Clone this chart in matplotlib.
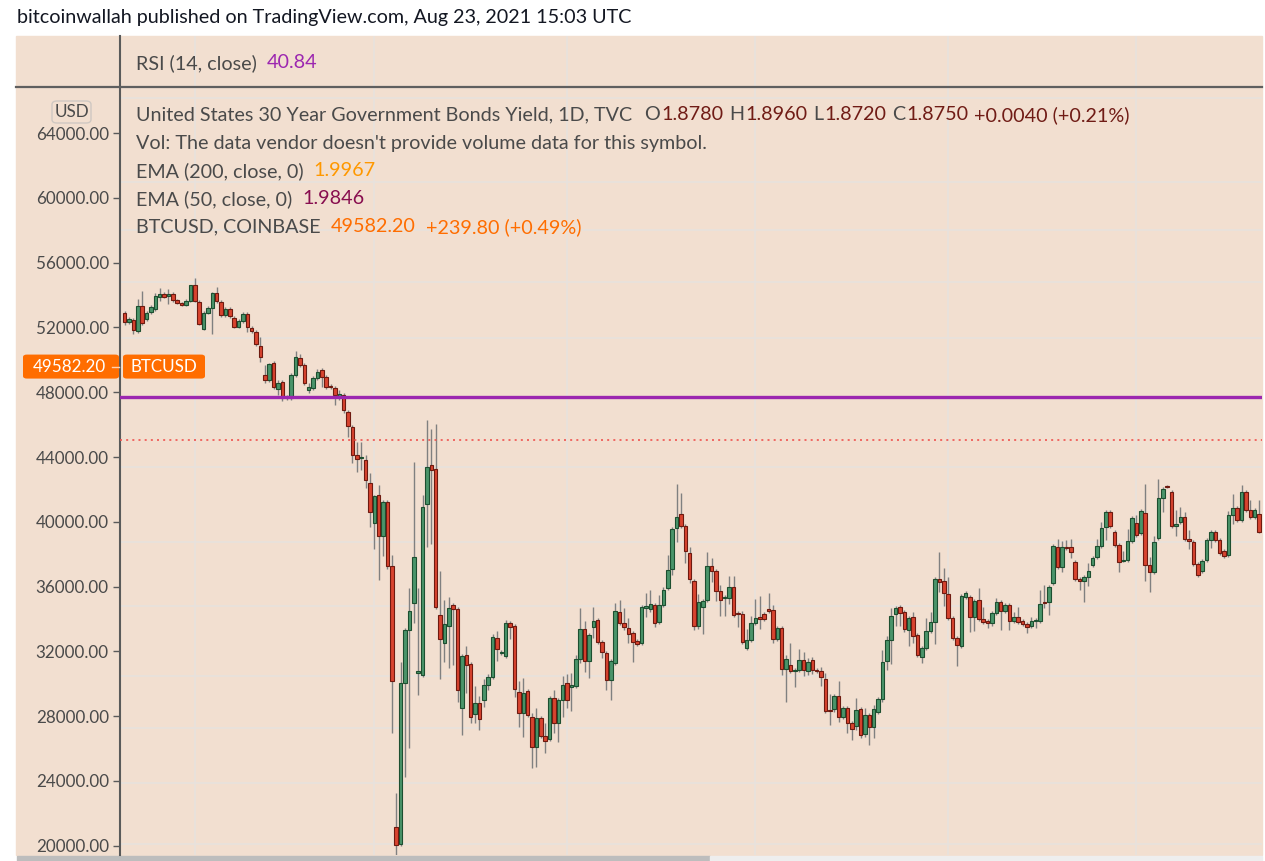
"""
tradingview style candle chart: US30Y candles drawn on the BTCUSD price scale
"""

import matplotlib
matplotlib.use("Agg")
import matplotlib.pyplot as plt
from matplotlib.patches import Rectangle, FancyBboxPatch
from matplotlib.lines import Line2D
import numpy as np


opens = [
    52890, 52330, 52460, 51780, 53320, 52520, 52950, 53140, 53880, 54060,
    53940, 54060, 53690, 53510, 53380, 53630, 54620, 53570, 51900, 52890,
    53200, 54120, 53570, 52770, 53140, 52580, 52030, 52400, 52830, 51960,
    51720, 50850, 49060, 48750, 49800, 48200, 48630, 47700, 47640, 49060,
    50110, 49680, 48140, 48260, 48880, 49370, 48940, 48380, 48260, 47770,
    47830, 46780, 45850, 44120, 43940, 43810, 42390, 39930, 41650, 39120,
    41220, 37270, 21160, 20110, 30050, 33320, 34990, 30670, 30550, 41100,
    43510, 43260, 34250, 32520, 33570, 34860, 34620, 28510, 31780, 31230,
    28140, 28810, 29000, 29930, 30420, 32830, 31900, 31720, 33750, 33570,
    29500, 28200, 29560, 27950, 26100, 27890, 26780, 26590, 29130, 27580,
    29000, 30050, 29810, 29870, 31530, 33380, 31410, 33510, 33940, 32580,
    31900, 30240, 31290, 34430, 33750, 33450, 33140, 32640, 32520, 34680,
    34620, 34860, 33820, 34860, 35920, 37090, 39620, 40480, 39740, 38080,
    36350, 33570, 34740, 35170, 37270, 36970, 35730, 35300, 35300, 35980,
    34370, 34310, 32210, 32710, 33750, 34120, 34310, 34620, 34560, 32770,
    33450, 30920, 31160, 30790, 30860, 31470, 30790, 31470, 30860, 30790,
    30300, 28380, 28440, 29250, 27950, 28510, 27580, 27400, 28440, 26900,
    28070, 27330, 28260, 29070, 31410, 32710, 34310, 34740, 34430, 33320,
    34120, 33010, 31660, 32210, 33260, 33820, 36470, 36350, 35550, 34060,
    32830, 32340, 35360, 35360, 34120, 35170, 34000, 33880, 33750, 34370,
    35050, 34490, 34860, 33880, 34120, 33880, 33690, 33570, 33880, 33880,
    35050, 35050, 36230, 38450, 37210, 38450, 38450, 37520, 36470, 36350,
    36600, 37340, 37830, 38510, 39680, 40600, 39370, 38570, 37580, 37640,
    38820, 39930, 39310, 40540, 37340, 36900, 39000, 41470, 42210, 41840,
    39740, 39990, 40300, 38940, 38750, 37400, 36970, 37640, 38880, 39370,
    38880, 38200, 37950, 40420, 40850, 40110, 41840, 40730, 40300, 40480,
    39740,
]
highs = [
    53010, 52640, 52580, 53750, 54250, 53010, 53380, 54120, 54430, 54190,
    54370, 54190, 53750, 53570, 53750, 54620, 55050, 53690, 53010, 53320,
    54190, 54490, 53690, 53260, 53260, 52700, 52520, 52950, 52950, 52090,
    51840, 51410, 49680, 49800, 49930, 48750, 48750, 47830, 49190, 50540,
    50360, 49800, 48570, 49000, 49430, 49490, 49060, 48510, 48380, 48140,
    47950, 46900, 45970, 44930, 44930, 44120, 43010, 41650, 42270, 41350,
    41350, 37950, 23260, 31350, 33450, 35920, 43690, 35920, 41650, 46280,
    45730, 46040, 36970, 35170, 35360, 34990, 34740, 31840, 32340, 31350,
    29870, 29250, 30300, 30610, 33080, 33260, 32090, 33940, 33880, 33690,
    30180, 30360, 29680, 28200, 28510, 28010, 27580, 29250, 29620, 29130,
    30490, 30610, 30670, 31780, 34680, 33880, 33140, 34740, 34060, 32710,
    32030, 31530, 34990, 35170, 34680, 34060, 33260, 32770, 34860, 35610,
    35790, 34990, 35490, 35980, 37950, 39680, 42330, 41780, 39860, 38450,
    36470, 35550, 35240, 38140, 37770, 37090, 36100, 35490, 36660, 36660,
    34490, 34490, 33380, 34190, 35240, 35420, 34430, 35610, 34860, 33570,
    33570, 31780, 32520, 30980, 32150, 31970, 31600, 31660, 30980, 31040,
    30670, 29370, 29370, 30180, 28630, 28630, 27700, 29130, 28570, 28510,
    28200, 28690, 29190, 32090, 32950, 34680, 34800, 34860, 34560, 34190,
    34430, 33140, 32340, 34060, 34430, 36600, 38140, 37150, 36600, 34190,
    32950, 35550, 35730, 35490, 35240, 35920, 34740, 34000, 34490, 35300,
    35170, 34990, 34990, 34430, 34740, 34000, 33820, 34120, 34060, 35790,
    36100, 36100, 38630, 38940, 38820, 38880, 38940, 37640, 36600, 36720,
    37460, 37890, 38940, 39990, 40730, 40730, 39490, 38690, 38200, 39560,
    40360, 40420, 40790, 42330, 37830, 39120, 42640, 42150, 42270, 41960,
    40730, 40910, 40600, 39490, 38880, 37520, 37710, 39000, 39490, 39490,
    39000, 38320, 40670, 41720, 40980, 42270, 41960, 41350, 40850, 41350,
    39860,
]
lows = [
    52150, 52210, 51590, 51650, 52150, 52400, 52830, 53010, 53630, 53810,
    53440, 53570, 53440, 53320, 53320, 53570, 53570, 52150, 51840, 52830,
    51590, 53510, 52640, 52640, 52580, 51960, 51960, 52270, 51720, 51650,
    50850, 49860, 48570, 48630, 48200, 47830, 47460, 47520, 47520, 48940,
    49560, 48450, 47950, 48140, 48750, 48320, 48200, 48200, 47210, 47520,
    46720, 45230, 43630, 43070, 43200, 42090, 39680, 38320, 36410, 37890,
    37090, 26960, 19430, 19990, 24250, 26040, 33750, 29310, 30420, 38450,
    38630, 34620, 30300, 31350, 30980, 31160, 28880, 26840, 29440, 27580,
    27580, 27150, 28570, 29620, 30300, 31410, 31780, 31600, 32770, 29190,
    27330, 26720, 27950, 24800, 24870, 26650, 25730, 26470, 26960, 26410,
    27950, 28510, 28320, 29750, 31290, 30730, 30360, 32830, 32460, 31600,
    29620, 29000, 31160, 33630, 33320, 32520, 31350, 32340, 32400, 34120,
    34430, 33510, 33690, 34740, 35790, 36720, 38750, 39620, 37460, 36230,
    33320, 33380, 33080, 35050, 36290, 35110, 34190, 34190, 34930, 34120,
    33510, 32460, 32090, 32580, 33630, 33380, 33880, 34370, 32520, 32640,
    30550, 28880, 30670, 29810, 30730, 30490, 30550, 30610, 30670, 29870,
    28200, 27460, 28260, 27640, 27830, 26960, 26530, 27150, 26650, 26720,
    26220, 26650, 28140, 28880, 30860, 31230, 33570, 33570, 33200, 32340,
    32520, 31660, 31290, 32090, 33140, 32460, 35670, 34800, 33940, 32710,
    31100, 32210, 35240, 33200, 33260, 33880, 33690, 33450, 33570, 34250,
    33320, 34370, 33320, 33750, 33690, 33570, 33140, 33450, 33450, 33750,
    34680, 34250, 36100, 37090, 36900, 38260, 37770, 36350, 35790, 35050,
    36040, 37210, 37710, 38380, 38880, 39620, 38450, 36900, 37520, 37520,
    38690, 39060, 39190, 36350, 35670, 36780, 38880, 40600, 42090, 39620,
    39120, 39860, 38820, 38320, 37270, 36600, 36840, 37520, 38380, 38750,
    37950, 37770, 37830, 39860, 39990, 39990, 40600, 40170, 40170, 39310,
    38690,
]
closes = [
    52330, 52520, 51840, 53320, 52270, 52890, 53260, 53940, 54060, 53880,
    54060, 53690, 53510, 53380, 53630, 54620, 53630, 52210, 52890, 53200,
    54120, 53630, 52770, 53140, 52700, 52030, 52400, 52830, 52030, 51780,
    50980, 50170, 48750, 49740, 48320, 48570, 47640, 47640, 49060, 50170,
    49680, 48570, 48320, 48880, 49250, 48940, 48320, 48320, 47830, 47890,
    46900, 45910, 44120, 43880, 44000, 42580, 40600, 41590, 39120, 41220,
    37270, 30180, 20050, 30050, 33320, 34490, 37830, 30790, 40910, 43380,
    43200, 34740, 32770, 33690, 34680, 34620, 29620, 31720, 31160, 27950,
    28810, 27830, 29930, 30420, 32890, 32150, 31970, 33750, 33510, 29680,
    28200, 29440, 28070, 26100, 27890, 26780, 26470, 29130, 27580, 29000,
    29930, 29000, 29930, 31530, 33380, 31410, 33010, 33880, 32580, 31970,
    30240, 31410, 34490, 33750, 33510, 33080, 32580, 32460, 34740, 34800,
    34930, 33750, 34860, 35790, 37030, 39560, 40300, 39740, 38200, 36470,
    33570, 35050, 35110, 37270, 36970, 35730, 35170, 35360, 35980, 34250,
    34310, 32580, 32710, 33750, 34060, 34000, 34000, 34490, 32770, 33450,
    30920, 31530, 30790, 30860, 31470, 30860, 31350, 30860, 30790, 30420,
    28320, 28320, 29250, 27950, 28510, 27580, 27210, 28380, 26840, 28070,
    27330, 28440, 29070, 31350, 32710, 34190, 34680, 34370, 33380, 34060,
    32950, 31780, 32210, 33260, 33820, 36470, 36290, 35610, 34060, 32830,
    32400, 35420, 35610, 34120, 35110, 34000, 33820, 33750, 34370, 35050,
    34490, 34860, 33880, 34120, 33820, 33690, 33510, 33880, 33940, 34930,
    34990, 35980, 38510, 37210, 38450, 38380, 38140, 36470, 36350, 36600,
    36970, 37770, 38510, 39620, 40600, 39740, 38570, 37520, 37640, 38820,
    40230, 39190, 40670, 37340, 36900, 38750, 41470, 42020, 42150, 39740,
    39860, 40300, 38940, 38820, 37400, 36720, 37580, 38880, 39370, 38880,
    38080, 37890, 40420, 40850, 40110, 41840, 40730, 40300, 40730, 39370,
    39370,
]

price_ticks = [20000, 24000, 28000, 32000, 36000, 40000, 44000, 48000,
               52000, 56000, 60000, 64000]
# grid lines belong to the hidden yield scale, so they sit at odd prices
grid_prices = [66160, 60980, 58010, 54800, 51350, 47700, 43380, 38750,
               34800, 30480, 27270, 23880, 20110]
grid_bars = [16, 57, 101, 144, 188, 231]

btc_last = 49582.20
purple_level = 47700
alert_level = 45050

header = "bitcoinwallah published on TradingView.com, Aug 23, 2021 15:03 UTC"
title_line = "United States 30 Year Government Bonds Yield, 1D, TVC"
ohlc = [("O", "1.8780"), ("H", "1.8960"), ("L", "1.8720"), ("C", "1.8750")]
change = "+0.0040 (+0.21%)"
vol_line = "Vol: The data vendor doesn't provide volume data for this symbol."
ema200 = ("EMA (200, close, 0)", "1.9967")
ema50 = ("EMA (50, close, 0)", "1.9846")
btc_line = ("BTCUSD, COINBASE", "49582.20", "+239.80 (+0.49%)")
rsi_line = ("RSI (14, close)", "40.84")

# ---- style ----
FONT = "Lato"
PEACH = "#F2DFD0"
GRID = "#E8E2DD"
TEXT = "#4A4A4A"
DARK_RED = "#701C16"
ORANGE = "#FF6D00"
PURPLE = "#9C27B0"
UP, UP_EDGE = "#4A946A", "#1D4F30"
DOWN, DOWN_EDGE = "#D8442F", "#6E1A10"
WICK = "#808080"

W, H = 1265, 861


def fx(px):
    return px / W


def fy(py):
    return 1 - py / H


fig = plt.figure(figsize=(W / 100, H / 100), dpi=100, facecolor="white")
renderer = fig.canvas.get_renderer()


def text_width(s, size):
    t = fig.text(0, 0, s, fontsize=size, family=FONT)
    w = t.get_window_extent(renderer).width
    t.remove()
    return w


def fit(s, target_px):
    # font size that makes s about target_px wide
    return 10 * target_px / text_width(s, 10)


def segments(x, y, parts, size):
    # draws coloured pieces of text one after the other
    for s, color, gap in parts:
        t = fig.text(fx(x), fy(y), s, fontsize=size, family=FONT, color=color,
                     va="center", ha="left")
        x += t.get_window_extent(renderer).width + gap


def fig_rect(x0, y0, x1, y1, color):
    # background panel in figure pixels, kept under the axes
    fig.patches.append(Rectangle((fx(x0), fy(y1)), fx(x1) - fx(x0), fy(y0) - fy(y1),
                                 transform=fig.transFigure, color=color, zorder=-5))


# background panels
fig_rect(16, 36, 1262, 855, PEACH)
fig_rect(17, 856, 710, 861, "#BDBDBD")
fig_rect(710, 856, 1262, 861, "#EEEEEE")

# rsi pane (only its legend is visible)
rsi_ax = fig.add_axes([fx(120), fy(86), fx(1262) - fx(120), fy(36) - fy(86)])
rsi_ax.set_facecolor("none")
rsi_ax.set_xlim(-1.07, 259.66)
rsi_ax.set_ylim(0, 1)
for b in grid_bars:
    rsi_ax.axvline(b, color=GRID, lw=1.2, zorder=0)
for side in ["top", "right", "bottom"]:
    rsi_ax.spines[side].set_visible(False)
rsi_ax.spines["left"].set_color("#5A5A5A")
rsi_ax.spines["left"].set_linewidth(1.5)
rsi_ax.set_xticks([])
rsi_ax.set_yticks([])

# main pane
ax = fig.add_axes([fx(120), fy(855), fx(1262) - fx(120), fy(88) - fy(855)])
ax.set_facecolor("none")
ax.set_xlim(-1.07, 259.66)
ax.set_ylim(19430, 66780)
for side in ["top", "right", "bottom"]:
    ax.spines[side].set_visible(False)
ax.spines["left"].set_color("#5A5A5A")
ax.spines["left"].set_linewidth(1.5)
ax.set_xticks([])

tick_size = fit("64000.00", 73)
ax.set_yticks(price_ticks)
ax.set_yticklabels([f"{p:.2f}" for p in price_ticks], fontsize=tick_size,
                   family=FONT, color=TEXT)
ax.tick_params(axis="y", length=5, width=1, color="#5A5A5A", pad=3)

for g in grid_prices:
    ax.axhline(g, color=GRID, lw=1.2, zorder=0)
for b in grid_bars:
    ax.axvline(b, color=GRID, lw=1.2, zorder=0)

# candles
o = np.array(opens)
h = np.array(highs)
l = np.array(lows)
c = np.array(closes)
idx = np.arange(len(o))
up = c >= o
body_low = np.minimum(o, c)
body_h = np.maximum(np.abs(c - o), 70)

ax.vlines(idx, l, h, color=WICK, lw=1.0, zorder=2)
ax.bar(idx[up], body_h[up], bottom=body_low[up], width=0.8, color=UP,
       edgecolor=UP_EDGE, linewidth=0.8, zorder=3)
ax.bar(idx[~up], body_h[~up], bottom=body_low[~up], width=0.8, color=DOWN,
       edgecolor=DOWN_EDGE, linewidth=0.8, zorder=3)

ax.axhline(purple_level, color=PURPLE, lw=2.4, zorder=4)
ax.axhline(alert_level, color="#EF5350", lw=1.2, ls=(0, (1.2, 2.5)), zorder=4)

# separator between rsi and main pane
fig.lines.append(Line2D([fx(16), fx(1262)], [fy(87), fy(87)], transform=fig.transFigure,
                        color="#5F5F5F", lw=1.6, zorder=5))

# header
fig.text(fx(17), fy(18), header, fontsize=fit(header, 617), family=FONT,
         color="#131722", va="center", ha="left")

# legends
leg = fit(title_line, 497)
segments(136, 63, [(rsi_line[0], TEXT, 10), (rsi_line[1], PURPLE, 0)], leg)
parts = [(title_line, TEXT, 12)]
for letter, value in ohlc:
    parts += [(letter, TEXT, 1), (value, DARK_RED, 6)]
parts += [(change, DARK_RED, 0)]
segments(136, 115, parts, leg)
segments(136, 143, [(vol_line, TEXT, 0)], leg)
segments(136, 171, [(ema200[0], TEXT, 10), (ema200[1], "#FF9800", 0)], leg)
segments(136, 199, [(ema50[0], TEXT, 10), (ema50[1], "#880E4F", 0)], leg)
segments(136, 227, [(btc_line[0], TEXT, 10), (btc_line[1], ORANGE, 10),
                    (btc_line[2], ORANGE, 0)], leg)

# USD badge
fig.patches.append(FancyBboxPatch((fx(52), fy(123)), fx(91) - fx(52), fy(101) - fy(123),
                                  boxstyle="round,pad=0,rounding_size=0.004",
                                  transform=fig.transFigure, facecolor="none",
                                  edgecolor="#CFC8C2", lw=1.0, zorder=5))
fig.text(fx(71.5), fy(112), "USD", fontsize=tick_size, family=FONT, color=TEXT,
         va="center", ha="center")

# last price labels on the scale
yp = ax.transData.transform((0, btc_last))[1] / H
bh = 24 / H
fig.patches.append(FancyBboxPatch((fx(23), yp - bh / 2), fx(119) - fx(23), bh,
                                  boxstyle="round,pad=0,rounding_size=0.003",
                                  transform=fig.transFigure, facecolor=ORANGE,
                                  edgecolor="none", zorder=6))
fig.patches.append(FancyBboxPatch((fx(123), yp - bh / 2), fx(205) - fx(123), bh,
                                  boxstyle="round,pad=0,rounding_size=0.003",
                                  transform=fig.transFigure, facecolor=ORANGE,
                                  edgecolor="none", zorder=6))
fig.lines.append(Line2D([fx(112), fx(119)], [yp, yp], transform=fig.transFigure,
                        color="#FFD2B0", lw=1, zorder=7))
fig.text(fx(106), yp, f"{btc_last:.2f}", fontsize=tick_size, family=FONT,
         color="white", va="center", ha="right", zorder=8)
fig.text(fx(164), yp, "BTCUSD", fontsize=tick_size, family=FONT,
         color="white", va="center", ha="center", zorder=8)

fig.savefig("out.png", dpi=100, facecolor="white")
